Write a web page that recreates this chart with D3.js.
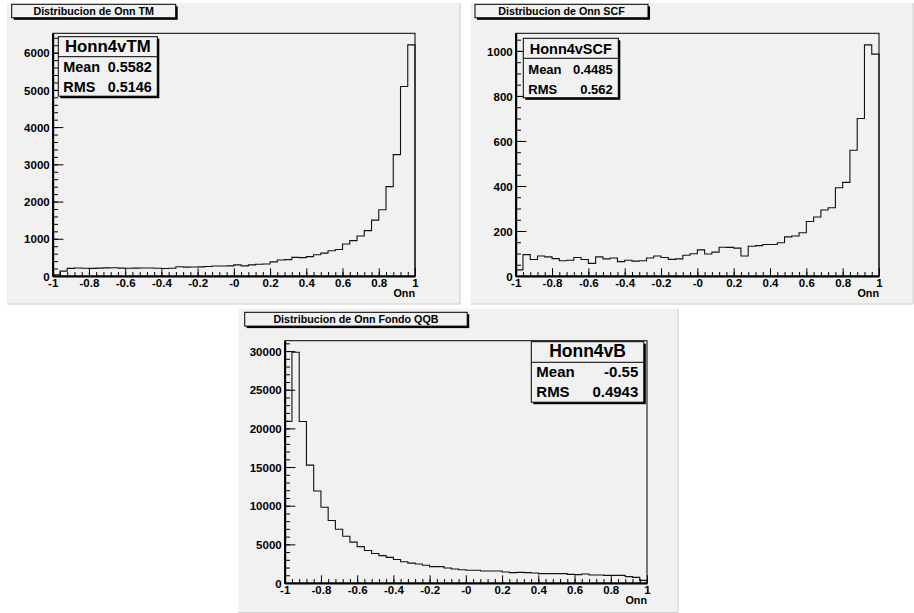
<!DOCTYPE html>
<html>
<head>
<meta charset="utf-8">
<script src="https://cdn.jsdelivr.net/npm/d3@7"></script>
<style>
  html, body { margin: 0; padding: 0; background: #ffffff; }
  svg { display: block; }
  text { font-family: "Liberation Sans", Arial, Helvetica, sans-serif; font-weight: bold; fill: #000; }
</style>
</head>
<body>
<svg id="chart" width="914" height="613"></svg>
<script>
// Bin contents, 50 equal bins over Onn in [-1, 1]
const tmCounts = [35, 130, 205, 215, 210, 205, 212, 218, 222, 212,
                  210, 212, 215, 215, 208, 200, 210, 250, 238, 242,
                  245, 255, 270, 268, 272, 300, 272, 300, 315, 322,
                  380, 430, 440, 500, 495, 520, 570, 615, 680, 710,
                  860, 950, 1075, 1220, 1500, 1780, 2400, 3260, 5090, 6210];

const scfCounts = [27, 95, 73, 89, 85, 77, 68, 70, 82, 73,
                   56, 85, 76, 80, 64, 70, 66, 68, 80, 89,
                   82, 74, 76, 92, 99, 116, 98, 106, 128, 127,
                   124, 89, 132, 135, 140, 140, 148, 174, 178, 192,
                   242, 262, 293, 303, 392, 416, 559, 700, 1027, 986];

const qqbCounts = [20900, 29850, 20900, 15250, 11900, 9800, 8090, 6950, 6040, 5290,
                   4700, 4200, 3810, 3540, 3320, 3040, 2740, 2570, 2460, 2300,
                   2120, 2120, 1940, 1810, 1720, 1640, 1640, 1550, 1550, 1550,
                   1420, 1340, 1380, 1340, 1300, 1210, 1210, 1210, 1210, 1120,
                   1080, 1170, 1040, 1040, 990, 990, 990, 820, 730, 340];

// Axis ticks and labels
const xTickValues = [-1, -0.8, -0.6, -0.4, -0.2, 0, 0.2, 0.4, 0.6, 0.8, 1];
const xTickLabels = ["-1", "-0.8", "-0.6", "-0.4", "-0.2", "-0", "0.2", "0.4", "0.6", "0.8", "1"];
const xAxisTitle = "Onn";
const tmYTicks = [0, 1000, 2000, 3000, 4000, 5000, 6000];
const scfYTicks = [0, 200, 400, 600, 800, 1000];
const qqbYTicks = [0, 5000, 10000, 15000, 20000, 25000, 30000];

// Titles and statistics boxes
const panelTitles = ["Distribucion de Onn TM", "Distribucion de Onn SCF", "Distribucion de Onn Fondo QQB"];
const histNames = ["Honn4vTM", "Honn4vSCF", "Honn4vB"];
const statMeans = ["0.5582", "0.4485", "-0.55"];
const statRMS = ["0.5146", "0.562", "0.4943"];

const svg = d3.select("#chart");
const bg = "#f1f1f1";

const panels = [
  {
    counts: tmCounts, yTicks: tmYTicks, yMinorStep: 200,
    pad: {x: 7, y: 3, w: 453.5, h: 301.5},
    frame: {l: 52.7, r: 415, t: 33.3, b: 276},
    titleBox: {x: 11.7, y: 4.3, w: 164, h: 13.5},
    statBox: {x: 58.3, y: 36.7, w: 99, h: 59.5, div: 20},
    nameFont: 16.8, statFont: 14.4
  },
  {
    counts: scfCounts, yTicks: scfYTicks, yMinorStep: 50,
    pad: {x: 470.7, y: 3, w: 443, h: 301.5},
    frame: {l: 515.7, r: 879, t: 33.3, b: 276},
    titleBox: {x: 475, y: 4.3, w: 173, h: 13.5},
    statBox: {x: 523.3, y: 38.3, w: 95, h: 59.5, div: 20},
    nameFont: 14.5, statFont: 13
  },
  {
    counts: qqbCounts, yTicks: qqbYTicks, yMinorStep: 1000,
    pad: {x: 238.5, y: 308.5, w: 440, h: 304.5},
    frame: {l: 284.7, r: 647, t: 340.7, b: 583},
    titleBox: {x: 244.7, y: 312.3, w: 222.5, h: 13.8},
    statBox: {x: 531.3, y: 341.7, w: 112.5, h: 60.5, div: 20.6},
    nameFont: 17.5, statFont: 15
  }
];

panels.forEach((p, i) => {
  const g = svg.append("g");
  const {pad, frame, titleBox, statBox} = p;

  // pad background with a light bevelled edge
  g.append("rect")
    .attr("x", pad.x).attr("y", pad.y).attr("width", pad.w).attr("height", pad.h)
    .attr("fill", bg);
  g.append("path")
    .attr("d", `M${pad.x + pad.w - 0.5},${pad.y}V${pad.y + pad.h - 0.5}H${pad.x}`)
    .attr("fill", "none").attr("stroke", "#cfcfcf").attr("stroke-width", 1);

  const nBins = p.counts.length;
  const x = d3.scaleLinear().domain([-1, 1]).range([frame.l, frame.r]);
  const yMax = d3.max(p.counts) * 1.05;
  const y = d3.scaleLinear().domain([0, yMax]).range([frame.b, frame.t]);

  // frame
  g.append("rect")
    .attr("x", frame.l).attr("y", frame.t)
    .attr("width", frame.r - frame.l).attr("height", frame.b - frame.t)
    .attr("fill", "none").attr("stroke", "#000").attr("stroke-width", 1);

  // histogram outline
  const edge = j => -1 + 2 * j / nBins;
  const pts = [[-1, 0]];
  p.counts.forEach((c, j) => pts.push([edge(j), c]));
  pts.push([1, p.counts[nBins - 1]]);
  pts.push([1, 0]);
  g.append("path")
    .attr("d", d3.line().x(d => x(d[0])).y(d => y(d[1])).curve(d3.curveStepAfter)(pts))
    .attr("fill", "none").attr("stroke", "#111").attr("stroke-width", 1.1);

  // x axis: minor then major ticks, drawn inward
  const xMinor = d3.range(0, 51).map(k => -1 + k * 0.04);
  g.append("g").attr("transform", `translate(0,${frame.b})`)
    .call(d3.axisBottom(x).tickValues(xMinor).tickSizeInner(-4).tickSizeOuter(0).tickFormat(""))
    .call(a => a.select(".domain").remove())
    .call(a => a.selectAll("line").attr("stroke", "#000"));
  g.append("g").attr("transform", `translate(0,${frame.b})`)
    .call(d3.axisBottom(x).tickValues(xTickValues).tickSizeInner(-7.7).tickSizeOuter(0)
      .tickPadding(4).tickFormat((d, k) => xTickLabels[k]))
    .call(a => a.select(".domain").attr("stroke", "#000").attr("stroke-width", 2))
    .call(a => a.selectAll("line").attr("stroke", "#000"))
    .call(a => a.selectAll("text").attr("font-size", 11.5).attr("font-family", null).attr("dy", "0.62em"));

  // y axis
  const yMinor = d3.range(0, yMax, p.yMinorStep);
  g.append("g").attr("transform", `translate(${frame.l},0)`)
    .call(d3.axisLeft(y).tickValues(yMinor).tickSizeInner(-5.3).tickSizeOuter(0).tickFormat(""))
    .call(a => a.select(".domain").remove())
    .call(a => a.selectAll("line").attr("stroke", "#000"));
  g.append("g").attr("transform", `translate(${frame.l},0)`)
    .call(d3.axisLeft(y).tickValues(p.yTicks).tickSizeInner(-10.7).tickSizeOuter(0)
      .tickPadding(3).tickFormat(d3.format("d")))
    .call(a => a.select(".domain").attr("stroke", "#000").attr("stroke-width", 2))
    .call(a => a.selectAll("line").attr("stroke", "#000"))
    .call(a => a.selectAll("text").attr("font-size", 11.5).attr("font-family", null).attr("dy", "0.36em"));

  // axis title
  g.append("text")
    .attr("x", frame.r).attr("y", frame.b + 21)
    .attr("text-anchor", "end").attr("font-size", 10.8)
    .text(xAxisTitle);

  // title box with shadow
  g.append("rect")
    .attr("x", titleBox.x + 2).attr("y", titleBox.y + 2)
    .attr("width", titleBox.w).attr("height", titleBox.h).attr("fill", "#000");
  g.append("rect")
    .attr("x", titleBox.x).attr("y", titleBox.y)
    .attr("width", titleBox.w).attr("height", titleBox.h)
    .attr("fill", bg).attr("stroke", "#000").attr("stroke-width", 1);
  g.append("text")
    .attr("x", titleBox.x + titleBox.w / 2).attr("y", titleBox.y + 10.8)
    .attr("text-anchor", "middle").attr("font-size", 10.7)
    .text(panelTitles[i]);

  // statistics box with shadow
  g.append("rect")
    .attr("x", statBox.x + 2).attr("y", statBox.y + 2)
    .attr("width", statBox.w).attr("height", statBox.h).attr("fill", "#000");
  g.append("rect")
    .attr("x", statBox.x).attr("y", statBox.y)
    .attr("width", statBox.w).attr("height", statBox.h)
    .attr("fill", bg).attr("stroke", "#000").attr("stroke-width", 1);
  g.append("line")
    .attr("x1", statBox.x).attr("x2", statBox.x + statBox.w)
    .attr("y1", statBox.y + statBox.div).attr("y2", statBox.y + statBox.div)
    .attr("stroke", "#000").attr("stroke-width", 1);
  g.append("text")
    .attr("x", statBox.x + statBox.w / 2).attr("y", statBox.y + 15.5)
    .attr("text-anchor", "middle").attr("font-size", p.nameFont)
    .text(histNames[i]);
  const rows = [["Mean", statMeans[i]], ["RMS", statRMS[i]]];
  rows.forEach((r, k) => {
    const by = statBox.y + 35.6 + k * 20;
    g.append("text").attr("x", statBox.x + 5).attr("y", by)
      .attr("font-size", p.statFont).text(r[0]);
    g.append("text").attr("x", statBox.x + statBox.w - 5.5).attr("y", by)
      .attr("text-anchor", "end").attr("font-size", p.statFont).text(r[1]);
  });
});
</script>
</body>
</html>
